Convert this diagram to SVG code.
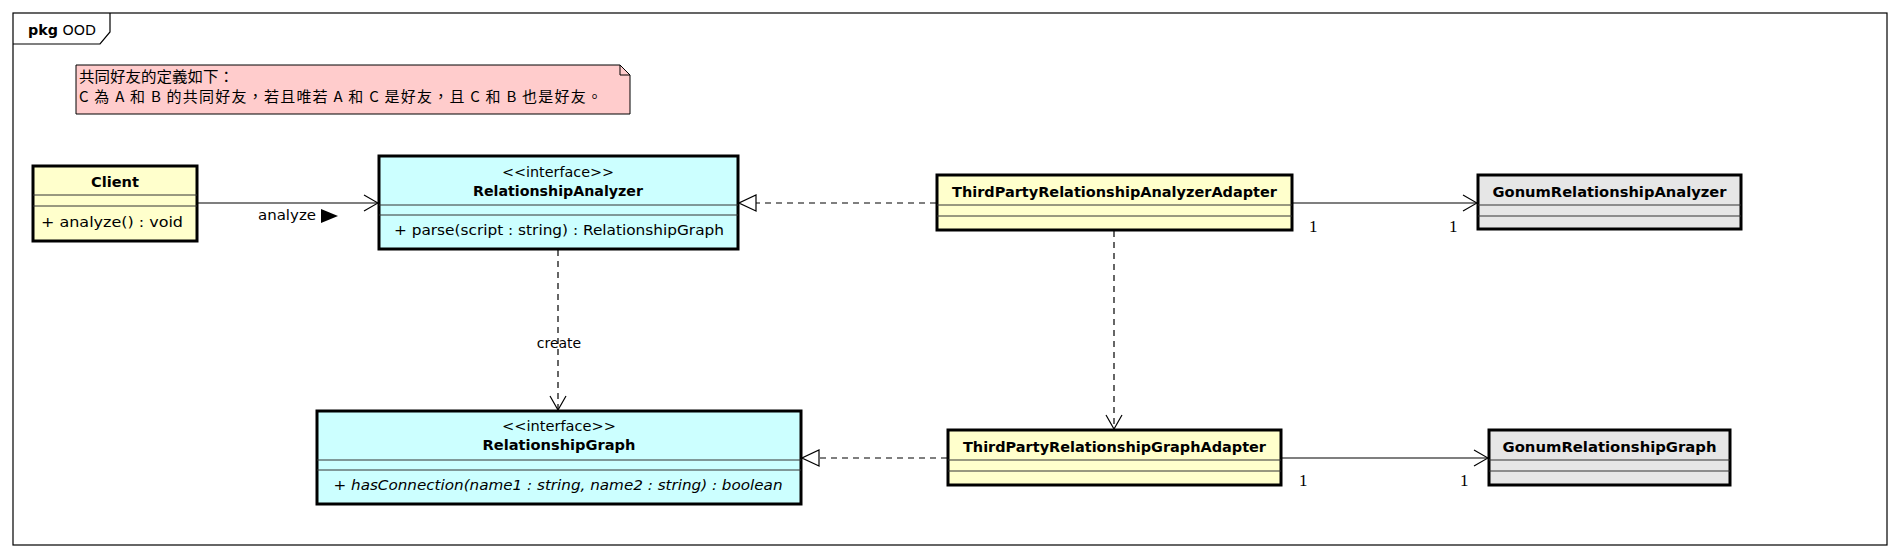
<svg xmlns="http://www.w3.org/2000/svg" width="1900" height="558" viewBox="0 0 1900 558">
<style>
.frame{fill:#fff;stroke:#000;stroke-width:1.2}
.box{stroke:#000;stroke-width:3}
.yel{fill:#FFFFCC}
.cyan{fill:#CCFFFF}
.gray{fill:#E6E6E6}
.sep{stroke:#333;stroke-width:1}
.t{font-family:"DejaVu Sans","Liberation Sans",sans-serif;font-size:14px;fill:#000}
.b{font-weight:bold}
.i{font-style:italic}
.c{text-anchor:middle}
.m{font-family:"Liberation Serif",serif;font-size:17px;fill:#000}
.cjk{font-family:"Noto Sans CJK TC","Noto Sans CJK SC",sans-serif;font-size:15px;fill:#000}
.ln{fill:none;stroke:#000;stroke-width:1.2}
.dash{stroke-dasharray:6,5}
</style>
<defs>
<marker id="open" viewBox="0 0 16 18" refX="15" refY="9" markerWidth="16" markerHeight="18" orient="auto" markerUnits="userSpaceOnUse">
<path d="M1,1 L15,9 L1,17" fill="none" stroke="#000" stroke-width="1.2"/>
</marker>
<marker id="tri" viewBox="0 0 20 20" refX="19" refY="10" markerWidth="20" markerHeight="20" orient="auto" markerUnits="userSpaceOnUse">
<path d="M2,2 L19,10 L2,18 Z" fill="#fff" stroke="#000" stroke-width="1.2"/>
</marker>
</defs>
<rect width="1900" height="558" fill="#fff"/>
<g id="package">
<rect class="frame" x="13" y="13" width="1874" height="532"/>
<path class="ln" d="M13,44 L100,44 L110,32 L110,13"/>
<text class="t" x="28" y="35" style="font-size:14px" textLength="68" lengthAdjust="spacingAndGlyphs"><tspan class="b">pkg</tspan> OOD</text>
</g>
<g id="note">
<path d="M76,65 L620,65 L630,75 L630,114 L76,114 Z" fill="#FFCCCC" stroke="#000" stroke-width="1"/>
<path d="M620,65 L620,75 L630,75" fill="none" stroke="#000" stroke-width="1"/>
<text class="cjk" x="79" y="82" textLength="155" lengthAdjust="spacingAndGlyphs">共同好友的定義如下：</text>
<text class="cjk" x="79" y="102" textLength="523" lengthAdjust="spacing">C 為 A 和 B 的共同好友，若且唯若 A 和 C 是好友，且 C 和 B 也是好友。</text>
</g>
<g id="Client">
<rect class="box yel" x="33" y="166" width="164" height="75"/>
<line class="sep" x1="33" y1="195" x2="197" y2="195"/>
<line class="sep" x1="33" y1="206" x2="197" y2="206"/>
<text class="t b c" x="115" y="187" textLength="48" lengthAdjust="spacingAndGlyphs">Client</text>
<text class="t c" x="112" y="227" textLength="142" lengthAdjust="spacingAndGlyphs">+ analyze() : void</text>
</g>
<g id="RelationshipAnalyzer">
<rect class="box cyan" x="379" y="156" width="359" height="93"/>
<line class="sep" x1="379" y1="205" x2="738" y2="205"/>
<line class="sep" x1="379" y1="215" x2="738" y2="215"/>
<text class="t c" x="558" y="177" textLength="112" lengthAdjust="spacingAndGlyphs">&lt;&lt;interface&gt;&gt;</text>
<text class="t b c" x="558" y="196" textLength="170" lengthAdjust="spacingAndGlyphs">RelationshipAnalyzer</text>
<text class="t c" x="559" y="235" textLength="330" lengthAdjust="spacingAndGlyphs">+ parse(script : string) : RelationshipGraph</text>
</g>
<g id="RelationshipGraph">
<rect class="box cyan" x="317" y="411" width="484" height="93"/>
<line class="sep" x1="317" y1="460" x2="801" y2="460"/>
<line class="sep" x1="317" y1="470" x2="801" y2="470"/>
<text class="t c" x="559" y="431" textLength="114" lengthAdjust="spacingAndGlyphs">&lt;&lt;interface&gt;&gt;</text>
<text class="t b c" x="559" y="450" textLength="153" lengthAdjust="spacingAndGlyphs">RelationshipGraph</text>
<text class="t i c" x="558" y="490" textLength="449" lengthAdjust="spacingAndGlyphs">+ hasConnection(name1 : string, name2 : string) : boolean</text>
</g>
<g id="ThirdPartyRelationshipAnalyzerAdapter">
<rect class="box yel" x="937" y="175" width="355" height="55"/>
<line class="sep" x1="937" y1="205" x2="1292" y2="205"/>
<line class="sep" x1="937" y1="216" x2="1292" y2="216"/>
<text class="t b c" x="1114.5" y="197" textLength="325" lengthAdjust="spacingAndGlyphs">ThirdPartyRelationshipAnalyzerAdapter</text>
</g>
<g id="GonumRelationshipAnalyzer">
<rect class="box gray" x="1478" y="175" width="263" height="54"/>
<line class="sep" x1="1478" y1="205" x2="1741" y2="205"/>
<line class="sep" x1="1478" y1="216" x2="1741" y2="216"/>
<text class="t b c" x="1609.5" y="197" textLength="234" lengthAdjust="spacingAndGlyphs">GonumRelationshipAnalyzer</text>
</g>
<g id="ThirdPartyRelationshipGraphAdapter">
<rect class="box yel" x="948" y="430" width="333" height="55"/>
<line class="sep" x1="948" y1="460" x2="1281" y2="460"/>
<line class="sep" x1="948" y1="471" x2="1281" y2="471"/>
<text class="t b c" x="1114.5" y="452" textLength="303" lengthAdjust="spacingAndGlyphs">ThirdPartyRelationshipGraphAdapter</text>
</g>
<g id="GonumRelationshipGraph">
<rect class="box gray" x="1489" y="430" width="241" height="55"/>
<line class="sep" x1="1489" y1="460" x2="1730" y2="460"/>
<line class="sep" x1="1489" y1="471" x2="1730" y2="471"/>
<text class="t b c" x="1609.5" y="452" textLength="214" lengthAdjust="spacingAndGlyphs">GonumRelationshipGraph</text>
</g>
<g id="connectors">
<line class="ln" x1="198" y1="203" x2="378" y2="203" marker-end="url(#open)"/>
<text class="t c" x="287" y="220" textLength="58" lengthAdjust="spacingAndGlyphs">analyze</text>
<polygon points="321,209 338,216 321,223" fill="#000"/>
<line class="ln dash" x1="936" y1="203" x2="739" y2="203" marker-end="url(#tri)"/>
<line class="ln dash" x1="558" y1="250" x2="558" y2="410" marker-end="url(#open)"/>
<text class="t c" x="559" y="348">create</text>
<line class="ln" x1="1293" y1="203" x2="1477" y2="203" marker-end="url(#open)"/>
<text class="m" x="1309" y="232">1</text>
<text class="m" x="1449" y="232">1</text>
<line class="ln dash" x1="1114" y1="231" x2="1114" y2="429" marker-end="url(#open)"/>
<line class="ln dash" x1="947" y1="458" x2="802" y2="458" marker-end="url(#tri)"/>
<line class="ln" x1="1282" y1="458" x2="1488" y2="458" marker-end="url(#open)"/>
<text class="m" x="1299" y="486">1</text>
<text class="m" x="1460" y="486">1</text>
</g>
</svg>
